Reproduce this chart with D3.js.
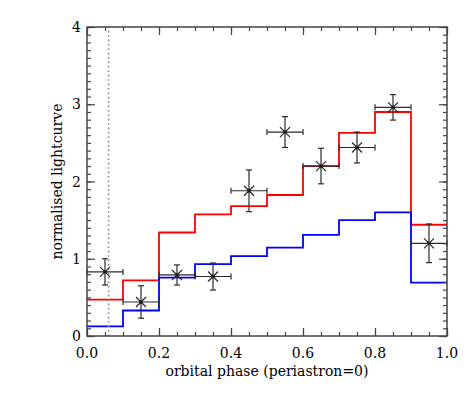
<!DOCTYPE html>
<html>
<head>
<meta charset="utf-8">
<script src="https://cdn.jsdelivr.net/npm/d3@7"></script>
<style>
  body { margin: 0; background: #fff; }
  svg text { font-family: "DejaVu Serif", serif; fill: #000; }
</style>
</head>
<body>
<div id="chart"></div>
<script>
// bin edges of the model histograms (orbital phase)
const binEdges = [0, 0.1, 0.2, 0.3, 0.4, 0.5, 0.6, 0.7, 0.8, 0.9, 1.0];
const redModel = [0.47, 0.72, 1.34, 1.575, 1.68, 1.825, 2.20, 2.63, 2.90, 1.44];
const blueModel = [0.125, 0.33, 0.755, 0.93, 1.035, 1.145, 1.31, 1.50, 1.60, 0.69];

// observed points
const obsPhase = [0.05, 0.15, 0.25, 0.35, 0.45, 0.55, 0.65, 0.75, 0.85, 0.95];
const obsValue = [0.83, 0.44, 0.79, 0.77, 1.88, 2.64, 2.20, 2.44, 2.96, 1.20];
const obsErr   = [0.17, 0.21, 0.13, 0.175, 0.27, 0.20, 0.23, 0.20, 0.165, 0.25];
const phaseHalfWidth = 0.05;

const periastronLine = 0.06;

const xTicks = [0, 0.2, 0.4, 0.6, 0.8, 1.0];
const yTicks = [0, 1, 2, 3, 4];

const W = 472, H = 393;
const margin = {left: 87, right: 25, top: 27, bottom: 57};

const svg = d3.select('#chart').append('svg')
    .attr('width', W).attr('height', H);

const x = d3.scaleLinear().domain([0, 1]).range([margin.left, W - margin.right]);
const y = d3.scaleLinear().domain([0, 4]).range([H - margin.bottom, margin.top]);

// step lines
function stepPath(vals) {
  let pts = [];
  vals.forEach(function(v, i) {
    pts.push([x(binEdges[i]), y(v)]);
    pts.push([x(binEdges[i + 1]), y(v)]);
  });
  return d3.line()(pts);
}

svg.append('path').attr('d', stepPath(redModel))
    .attr('fill', 'none').attr('stroke', '#ff0000').attr('stroke-width', 1.8);
svg.append('path').attr('d', stepPath(blueModel))
    .attr('fill', 'none').attr('stroke', '#0000ff').attr('stroke-width', 1.8);

// periastron dotted line
svg.append('line')
    .attr('x1', x(periastronLine)).attr('x2', x(periastronLine))
    .attr('y1', y(0)).attr('y2', y(4))
    .attr('stroke', '#888').attr('stroke-width', 1.6)
    .attr('stroke-dasharray', '1.6,2.8');

// error bars + X markers
const pts = svg.append('g').attr('stroke', '#2a2a2a').attr('stroke-width', 1.2).attr('fill', 'none');
obsPhase.forEach(function(p, i) {
  let cx = x(p), cy = y(obsValue[i]);
  let x0 = x(p - phaseHalfWidth), x1 = x(p + phaseHalfWidth);
  let y0 = y(obsValue[i] - obsErr[i]), y1 = y(obsValue[i] + obsErr[i]);
  let g = pts.append('g');
  g.append('line').attr('x1', x0).attr('x2', x1).attr('y1', cy).attr('y2', cy);
  g.append('line').attr('x1', x0).attr('x2', x0).attr('y1', cy - 3).attr('y2', cy + 3);
  g.append('line').attr('x1', x1).attr('x2', x1).attr('y1', cy - 3).attr('y2', cy + 3);
  g.append('line').attr('x1', cx).attr('x2', cx).attr('y1', y0).attr('y2', y1);
  g.append('line').attr('x1', cx - 3).attr('x2', cx + 3).attr('y1', y0).attr('y2', y0);
  g.append('line').attr('x1', cx - 3).attr('x2', cx + 3).attr('y1', y1).attr('y2', y1);
  let s = 5;
  g.append('line').attr('x1', cx - s).attr('x2', cx + s).attr('y1', cy - s).attr('y2', cy + s);
  g.append('line').attr('x1', cx - s).attr('x2', cx + s).attr('y1', cy + s).attr('y2', cy - s);
  g.append('circle').attr('cx', cx).attr('cy', cy).attr('r', 1.3).attr('fill', '#000');
});

// axes
const axisColor = '#444';
function styleAxis(g) {
  g.select('.domain').remove();
  g.selectAll('line').attr('stroke', axisColor).attr('stroke-width', 1.2);
}

const xMinor = d3.range(0, 1.0001, 0.05);
const yMinor = d3.range(0, 4.0001, 0.1);

svg.append('g').attr('transform', 'translate(0,' + y(0) + ')')
    .call(d3.axisTop(x).tickValues(xMinor).tickSize(4).tickFormat(''))
    .call(styleAxis);
svg.append('g').attr('transform', 'translate(0,' + y(0) + ')')
    .call(d3.axisTop(x).tickValues(xTicks).tickSize(8).tickFormat(''))
    .call(styleAxis);
svg.append('g').attr('transform', 'translate(0,' + y(4) + ')')
    .call(d3.axisBottom(x).tickValues(xMinor).tickSize(4).tickFormat(''))
    .call(styleAxis);
svg.append('g').attr('transform', 'translate(0,' + y(4) + ')')
    .call(d3.axisBottom(x).tickValues(xTicks).tickSize(8).tickFormat(''))
    .call(styleAxis);
svg.append('g').attr('transform', 'translate(' + x(0) + ',0)')
    .call(d3.axisRight(y).tickValues(yMinor).tickSize(4).tickFormat(''))
    .call(styleAxis);
svg.append('g').attr('transform', 'translate(' + x(0) + ',0)')
    .call(d3.axisRight(y).tickValues(yTicks).tickSize(8).tickFormat(''))
    .call(styleAxis);
svg.append('g').attr('transform', 'translate(' + x(1) + ',0)')
    .call(d3.axisLeft(y).tickValues(yMinor).tickSize(4).tickFormat(''))
    .call(styleAxis);
svg.append('g').attr('transform', 'translate(' + x(1) + ',0)')
    .call(d3.axisLeft(y).tickValues(yTicks).tickSize(8).tickFormat(''))
    .call(styleAxis);

// tick labels
svg.append('g').selectAll('text').data(xTicks).join('text')
    .attr('x', d => x(d)).attr('y', y(0) + 22)
    .attr('text-anchor', 'middle').style('font-size', '14px')
    .text(d => d3.format('.1f')(d));
svg.append('g').selectAll('text').data(yTicks).join('text')
    .attr('x', x(0) - 6).attr('y', d => y(d) + 5)
    .attr('text-anchor', 'end').style('font-size', '14px')
    .text(d => d);

// frame
svg.append('rect')
    .attr('x', x(0)).attr('y', y(4))
    .attr('width', x(1) - x(0)).attr('height', y(0) - y(4))
    .attr('fill', 'none').attr('stroke', axisColor).attr('stroke-width', 1.5);

// axis titles
svg.append('text')
    .attr('x', (x(0) + x(1)) / 2).attr('y', y(0) + 40)
    .attr('text-anchor', 'middle').style('font-size', '14px')
    .text('orbital phase (periastron=0)');
svg.append('text')
    .attr('transform', 'translate(62,' + ((y(0) + y(4)) / 2) + ') rotate(-90)')
    .attr('text-anchor', 'middle').style('font-size', '14px')
    .text('normalised lightcurve');
</script>
</body>
</html>
